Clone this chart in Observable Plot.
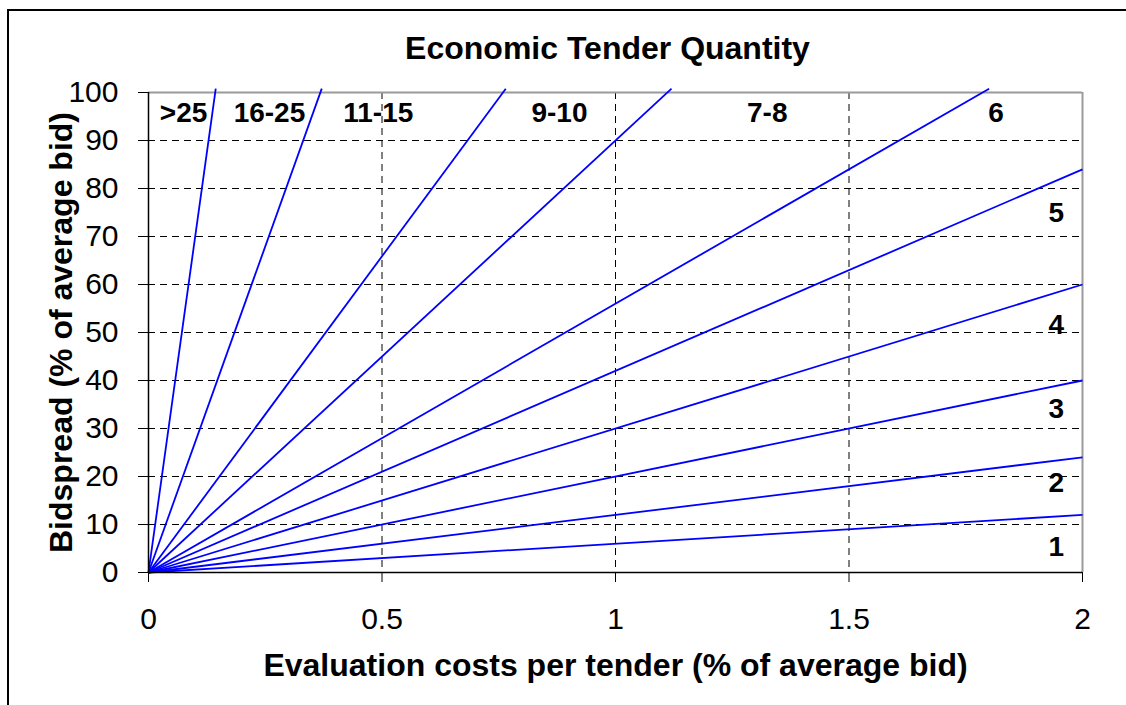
<!DOCTYPE html>
<html><head><meta charset="utf-8">
<script src="https://cdn.jsdelivr.net/npm/d3@7"></script>
<script src="https://cdn.jsdelivr.net/npm/@observablehq/plot@0.6"></script>
<style>
html,body{margin:0;padding:0;background:#fff;}
#wrap{position:relative;width:1126px;height:705px;overflow:hidden;}
#border{position:absolute;left:7px;top:9px;right:-10px;bottom:-10px;border-top:2px solid #000;border-left:2px solid #000;}
#chart{position:absolute;left:0;top:0;}
</style></head><body>
<div id="wrap"><div id="border"></div><div id="chart"></div></div>
<script>
// Boundary lines from origin: end points
const lineEndX = [2, 2, 2, 2, 2, 1.8, 1.12, 0.765, 0.371, 0.144];
const lineEndY = [12, 24, 40, 60, 84, 100.8, 100.8, 100.8, 100.8, 100.8];
const lineStartX = 0;
const lineStartY = 0;

// Region labels
const topLabels = [">25", "16-25", "11-15", "9-10", "7-8", "6"];
const topLabelX = [0.075, 0.259, 0.492, 0.88, 1.325, 1.815];
const topLabelY = [95.8, 95.8, 95.8, 95.8, 95.8, 95.8];
const rightLabels = ["5", "4", "3", "2", "1"];
const rightLabelX = [1.944, 1.944, 1.944, 1.944, 1.944];
const rightLabelY = [74.9, 51.5, 34.0, 18.6, 5.4];

// Axes
const xTicks = [0, 0.5, 1, 1.5, 2];
const xTickLabels = ["0", "0.5", "1", "1.5", "2"];
const yTicks = [0, 10, 20, 30, 40, 50, 60, 70, 80, 90, 100];
const xGrid = [0.5, 1, 1.5];
const yGrid = [10, 20, 30, 40, 50, 60, 70, 80, 90];

const title = "Economic Tender Quantity";
const xTitle = "Evaluation costs per tender (% of average bid)";
const yTitle = "Bidspread (% of average bid)";

const segments = lineEndX.map((x, i) => ({x1: lineStartX, y1: lineStartY, x2: x, y2: lineEndY[i]}));

const font = "'Liberation Sans', Arial, Helvetica, sans-serif";

const plot = Plot.plot({
  width: 1126,
  height: 705,
  marginLeft: 148,
  marginRight: 44,
  marginTop: 92,
  marginBottom: 133,
  style: {fontFamily: font, fontSize: "30px", background: "transparent", color: "#000", overflow: "visible"},
  x: {domain: [0, 2]},
  y: {domain: [0, 100]},
  marks: [
    Plot.ruleY(yGrid, {stroke: "#000", strokeWidth: 1, strokeDasharray: "7,5"}),
    Plot.ruleX(xGrid, {stroke: "#000", strokeWidth: 1, strokeDasharray: "7,5"}),
    Plot.ruleY([100], {stroke: "#9a9a9a", strokeWidth: 2}),
    Plot.ruleX([2], {stroke: "#9a9a9a", strokeWidth: 2}),
    Plot.link(segments, {x1: "x1", y1: "y1", x2: "x2", y2: "y2", stroke: "#0000ff", strokeWidth: 1.8}),
    Plot.axisX(xTicks, {tickSize: 10, tickPadding: 25, fontSize: 30, tickFormat: (d) => xTickLabels[xTicks.indexOf(d)], label: null, stroke: "#000"}),
    Plot.axisY(yTicks, {tickSize: 10, tickPadding: 20, fontSize: 30, label: null, stroke: "#000"}),
    Plot.ruleX([0], {stroke: "#000", strokeWidth: 1.5}),
    Plot.ruleY([0], {stroke: "#000", strokeWidth: 1.5}),
    Plot.text(topLabels, {x: (d, i) => topLabelX[i], y: (d, i) => topLabelY[i], text: d => d, fontSize: 28, fontWeight: "bold", fill: "#000"}),
    Plot.text(rightLabels, {x: (d, i) => rightLabelX[i], y: (d, i) => rightLabelY[i], text: d => d, fontSize: 28, fontWeight: "bold", fill: "#000"}),
    Plot.text([title], {text: d => d, frameAnchor: "top", lineAnchor: "middle", textAnchor: "middle", dy: -44, dx: -8, fontSize: 32, fontWeight: "bold", fill: "#000"}),
    Plot.text([xTitle], {text: d => d, frameAnchor: "bottom", lineAnchor: "middle", textAnchor: "middle", dy: 93, fontSize: 32, fontWeight: "bold", fill: "#000"}),
    Plot.text([yTitle], {text: d => d, frameAnchor: "left", lineAnchor: "middle", textAnchor: "middle", dx: -87, rotate: -90, fontSize: 32, fontWeight: "bold", fill: "#000"})
  ]
});
document.getElementById("chart").appendChild(plot);
</script>
</body></html>
